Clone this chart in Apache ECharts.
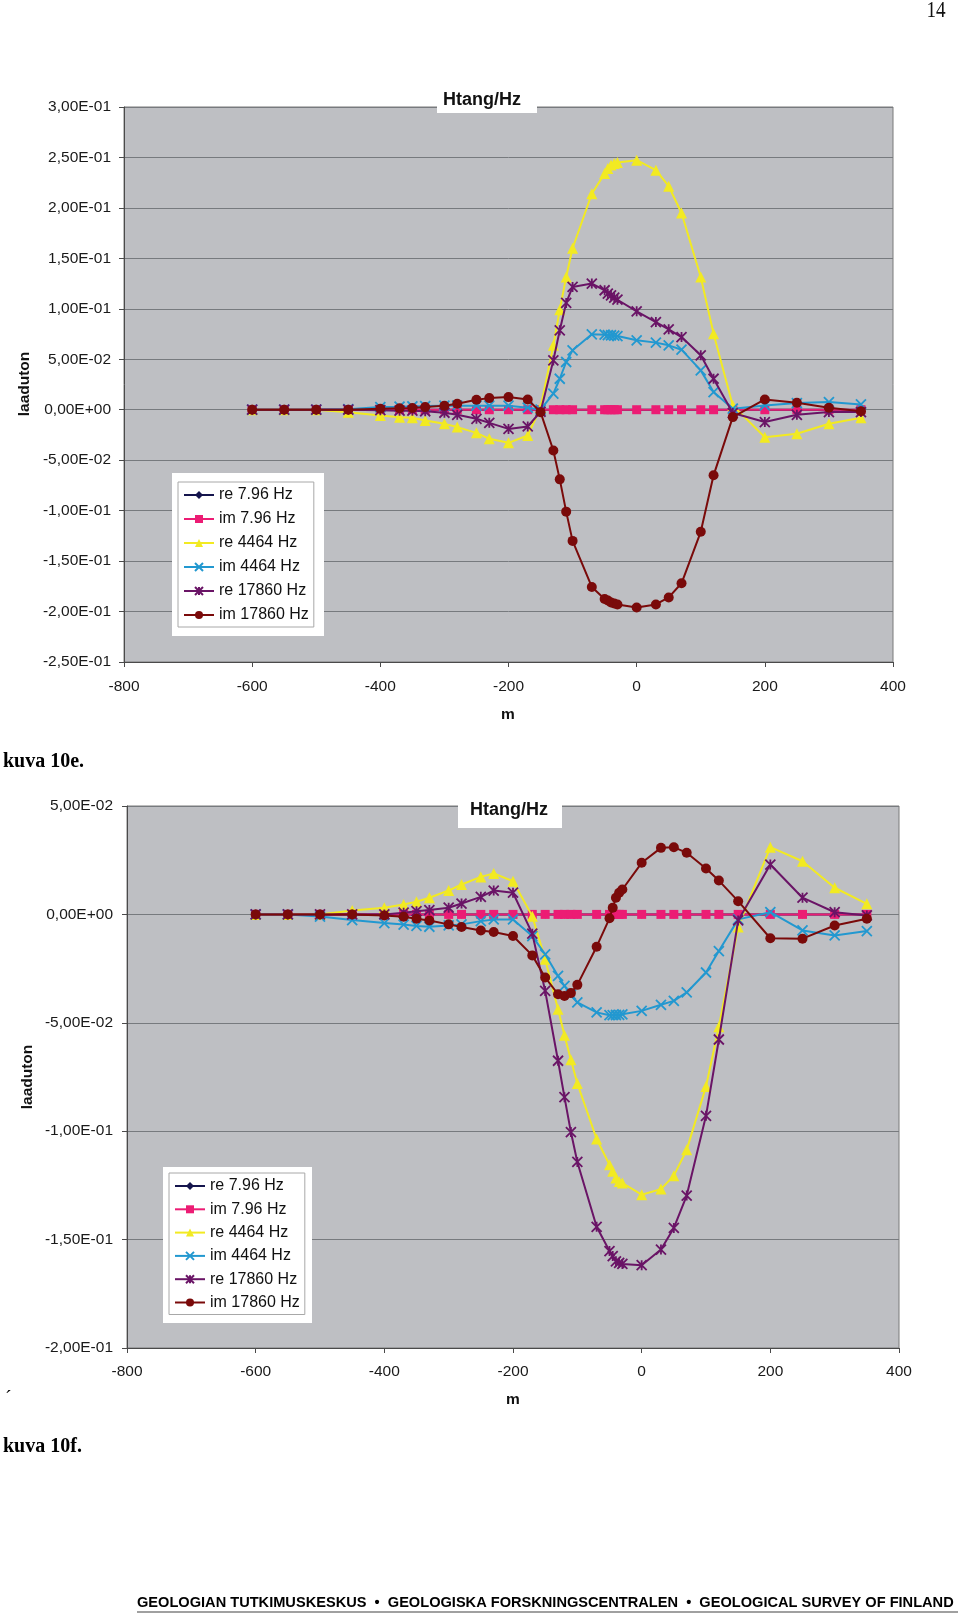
<!DOCTYPE html>
<html>
<head>
<meta charset="utf-8">
<script src="https://cdn.jsdelivr.net/npm/echarts@6/dist/echarts.min.js"></script>
<style>
html,body{margin:0;padding:0;background:#fff;}
#c{width:960px;height:1616px;}
</style>
</head>
<body>
<div id="c"></div>
<script>
// ---- data ----
const seriesNames = ['re 7.96 Hz','im 7.96 Hz','re 4464 Hz','im 4464 Hz','re 17860 Hz','im 17860 Hz'];
const xs = [-600,-550,-500,-450,-400,-370,-350,-330,-300,-280,-250,-230,-200,-170,-150,-130,-120,-110,-100,-70,-50,-45,-40,-35,-30,0,30,50,70,100,120,150,200,250,300,350];
const xTicks = [-800,-600,-400,-200,0,200,400];

// chart 10e (top)
const e_re796  = [0,0,0,0,0,0,0,0,0,0,0,0,0,0,0,0,0,0,0,0,0,0,0,0,0,0,0,0,0,0,0,0,0,0,0,0];
const e_im796  = [0,0,0,0,0,0,0,0,0,0,0,0,0,0,0,0,0,0,0,0,0,0,0,0,0,0,0,0,0,0,0,0,0,0,0,0];
const e_re4464 = [0,0,0,-0.0024,-0.0057,-0.0074,-0.008,-0.0106,-0.014,-0.0172,-0.0229,-0.0288,-0.0328,-0.0255,0.002,0.0638,0.099,0.1316,0.16,0.214,0.234,0.239,0.2424,0.244,0.245,0.2473,0.2374,0.2215,0.195,0.1316,0.0754,0.0043,-0.0272,-0.0238,-0.0139,-0.008];
const e_im4464 = [0,0,0,0.0005,0.0026,0.003,0.0033,0.0036,0.004,0.004,0.004,0.004,0.004,0.002,0.0,0.0159,0.0307,0.0473,0.0589,0.0747,0.0744,0.074,0.0738,0.0734,0.073,0.0688,0.0665,0.0638,0.0595,0.039,0.0175,0.001,0.0043,0.0066,0.0076,0.0053];
const e_re17860 = [0,0,0,0,-0.0005,-0.001,-0.001,-0.0015,-0.003,-0.005,-0.009,-0.013,-0.019,-0.0166,-0.002,0.0489,0.0787,0.1058,0.1217,0.125,0.1184,0.115,0.1134,0.111,0.109,0.0975,0.0869,0.0797,0.072,0.0539,0.0307,-0.0033,-0.0122,-0.005,-0.0023,-0.0023];
const e_im17860 = [0,0,0,0,0.001,0.0015,0.0018,0.0026,0.004,0.006,0.0099,0.0115,0.0125,0.0102,-0.0024,-0.0404,-0.069,-0.101,-0.130,-0.1756,-0.1875,-0.189,-0.191,-0.192,-0.193,-0.196,-0.193,-0.186,-0.172,-0.121,-0.065,-0.0073,0.0102,0.0069,0.002,-0.0014];

// chart 10f (bottom)
const f_re796  = [0,0,0,0,0,0,0,0,0,0,0,0,0,0,0,0,0,0,0,0,0,0,0,0,0,0,0,0,0,0,0,0,0,0,0,0];
const f_im796  = [0,0,0,0,0,0,0,0,0,0,0,0,0,0,0,0,0,0,0,0,0,0,0,0,0,0,0,0,0,0,0,0,0,0,0,0];
const f_re4464 = [0,0,0,0.0018,0.0031,0.0046,0.0058,0.0077,0.011,0.0138,0.0173,0.0189,0.0153,-0.0008,-0.0207,-0.0437,-0.0557,-0.067,-0.078,-0.1036,-0.1155,-0.1185,-0.1216,-0.1232,-0.1239,-0.1293,-0.1267,-0.1205,-0.1086,-0.0794,-0.0518,-0.0058,0.031,0.0245,0.0123,0.0049];
const f_im4464 = [0,0,-0.001,-0.0026,-0.004,-0.0047,-0.0053,-0.0057,-0.0051,-0.0046,-0.0031,-0.0023,-0.0023,-0.01,-0.0184,-0.0284,-0.033,-0.037,-0.0406,-0.0452,-0.0465,-0.0465,-0.0464,-0.0463,-0.0461,-0.0445,-0.0417,-0.0399,-0.036,-0.0268,-0.0169,-0.0023,0.001,-0.0074,-0.0097,-0.0077];
const f_re17860 = [0,0,0,0,0,0.0008,0.0015,0.002,0.0031,0.005,0.0081,0.011,0.01,-0.0089,-0.0353,-0.0675,-0.0843,-0.1004,-0.1142,-0.1441,-0.1553,-0.1576,-0.16,-0.1607,-0.1612,-0.1618,-0.1546,-0.1446,-0.1297,-0.0929,-0.0577,-0.0028,0.023,0.0077,0.001,-0.0005];
const f_im17860 = [0,0,0,0,-0.0005,-0.0011,-0.002,-0.0028,-0.0046,-0.0058,-0.0074,-0.0081,-0.01,-0.0189,-0.0291,-0.0368,-0.0376,-0.0363,-0.0325,-0.0149,-0.0018,0.0031,0.0077,0.01,0.0115,0.0238,0.0307,0.031,0.0284,0.0212,0.0156,0.0061,-0.011,-0.0112,-0.0051,-0.002];

// ---- styling ----
const FONT = '"Liberation Sans", Arial, sans-serif';
const colors = ['#15154d','#EC1C74','#F2EA22','#2298D0','#6A1466','#7A0A0A'];
const symX = 'path://M0,0L10,10M10,0L0,10';
const symAst = 'path://M0,0L10,10M10,0L0,10M5,0L5,10';
const symbols = ['diamond','rect','triangle',symX,symAst,'circle'];
const symSizes = [8,9,11,10,10,10];

function sci(v){
  if (Math.abs(v) < 1e-12) return '0,00E+00';
  const e = Math.floor(Math.log10(Math.abs(v)) + 1e-9);
  const m = v / Math.pow(10, e);
  const s = m.toFixed(2).replace('.', ',');
  return s + 'E' + (e < 0 ? '-' : '+') + String(Math.abs(e)).padStart(2,'0');
}

function mkSeries(arrs, gi){
  return arrs.map((arr, k) => {
    const stroke = (k === 3 || k === 4);
    return {
      name: seriesNames[k], type: 'line', xAxisIndex: gi, yAxisIndex: gi,
      data: xs.map((x, i) => [x, arr[i]]),
      symbol: symbols[k], symbolSize: symSizes[k], showSymbol: true,
      lineStyle: {color: colors[k], width: 2},
      itemStyle: stroke ? {color: colors[k], borderColor: colors[k], borderWidth: 1.8}
                        : {color: colors[k], borderWidth: 0},
      emphasis: {disabled: true}, z: 2 + k * 0.01
    };
  });
}

function mkX(gi, margin){
  return {
    gridIndex: gi, type: 'value', min: xTicks[0], max: xTicks[xTicks.length-1], interval: 200,
    axisLine: {onZero: false, lineStyle: {color: '#4a4a4a', width: 1}},
    axisTick: {show: true, length: 5, inside: false, lineStyle: {color: '#4a4a4a'}},
    splitLine: {show: false},
    axisLabel: {fontSize: 15.5, color: '#1a1a1a', fontFamily: FONT, margin: margin, showMinLabel: true, showMaxLabel: true}
  };
}
function mkY(gi, min, max, margin){
  return {
    gridIndex: gi, type: 'value', min: min, max: max, interval: 0.05,
    axisLine: {show: true, onZero: false, lineStyle: {color: '#4a4a4a', width: 1}},
    axisTick: {show: true, length: 5, lineStyle: {color: '#4a4a4a'}},
    splitLine: {show: true, lineStyle: {color: '#777a7e', width: 1}},
    axisLabel: {fontSize: 15.5, color: '#1a1a1a', fontFamily: FONT, margin: margin, formatter: sci, showMinLabel: true, showMaxLabel: true}
  };
}
function mkLegend(left, top, gap){
  return {
    orient: 'vertical', left: left, top: top, padding: [5, 5, 4, 5], itemGap: gap,
    itemWidth: 30, itemHeight: 10, selectedMode: false,
    backgroundColor: '#ffffff', borderColor: '#a8a8a8', borderWidth: 1, z: 6,
    textStyle: {fontSize: 16, color: '#111', fontFamily: FONT, lineHeight: 16},
    data: seriesNames
  };
}
function txt(x, y, text, font, extra){
  return Object.assign({
    type: 'text', x: x, y: y, z: 10,
    style: {text: text, font: font, fill: '#111', align: 'center', verticalAlign: 'middle', textAlign: 'center', textVerticalAlign: 'middle'}
  }, extra || {});
}

const chart = echarts.init(document.getElementById('c'), null, {renderer: 'canvas', width: 960, height: 1616});
const option = {
  animation: false,
  backgroundColor: '#ffffff',
  grid: [
    {left: 124, top: 107, width: 769, height: 555, show: true, backgroundColor: '#BEBFC3', borderColor: '#7a7a7a', borderWidth: 1},
    {left: 127, top: 806, width: 772, height: 542, show: true, backgroundColor: '#BEBFC3', borderColor: '#7a7a7a', borderWidth: 1}
  ],
  xAxis: [mkX(0, 17), mkX(1, 16)],
  yAxis: [mkY(0, -0.25, 0.3, 13), mkY(1, -0.2, 0.05, 14)],
  legend: [mkLegend(178, 482, 8), mkLegend(169, 1173, 7.3)],
  series: mkSeries([e_re796, e_im796, e_re4464, e_im4464, e_re17860, e_im17860], 0)
    .concat(mkSeries([f_re796, f_im796, f_re4464, f_im4464, f_re17860, f_im17860], 1)),
  graphic: [
    // legend outer white frames
    {type: 'rect', shape: {x: 172, y: 473, width: 152, height: 163}, style: {fill: '#fff'}, z: 5},
    {type: 'rect', shape: {x: 163, y: 1167, width: 149, height: 156}, style: {fill: '#fff'}, z: 5},
    // title boxes
    {type: 'rect', shape: {x: 437, y: 84, width: 100, height: 29}, style: {fill: '#fff'}, z: 9},
    {type: 'rect', shape: {x: 458, y: 795, width: 104, height: 33}, style: {fill: '#fff'}, z: 9},
    txt(482, 100, 'Htang/Hz', 'bold 18px ' + FONT),
    txt(509, 810, 'Htang/Hz', 'bold 18px ' + FONT),
    // axis names
    txt(25, 384, 'laaduton', 'bold 15.5px ' + FONT, {rotation: Math.PI / 2}),
    txt(28, 1077, 'laaduton', 'bold 15.5px ' + FONT, {rotation: Math.PI / 2}),
    txt(508, 715, 'm', 'bold 15.5px ' + FONT),
    txt(513, 1400, 'm', 'bold 15.5px ' + FONT),
    // captions
    {type: 'text', x: 3, y: 762, z: 10, style: {text: 'kuva 10e.', font: 'bold 20px "Liberation Serif", "Times New Roman", serif', fill: '#000', align: 'left', verticalAlign: 'middle', textAlign: 'left', textVerticalAlign: 'middle'}},
    {type: 'text', x: 3, y: 1447, z: 10, style: {text: 'kuva 10f.', font: 'bold 20px "Liberation Serif", "Times New Roman", serif', fill: '#000', align: 'left', verticalAlign: 'middle', textAlign: 'left', textVerticalAlign: 'middle'}},
    {type: 'text', x: 5, y: 1400, z: 10, style: {text: '\u00B4', font: '20px "Liberation Serif", serif', fill: '#000', align: 'left', verticalAlign: 'middle', textAlign: 'left', textVerticalAlign: 'middle'}},
    // page number
    {type: 'text', x: 936, y: 11, z: 10, scaleX: 0.8, style: {text: '14', font: '24px "Liberation Serif", serif', fill: '#111', align: 'center', verticalAlign: 'middle', textAlign: 'center', textVerticalAlign: 'middle'}},
    // footer
    {type: 'text', x: 137, y: 1603, z: 10, style: {text: 'GEOLOGIAN TUTKIMUSKESKUS  \u2022  GEOLOGISKA FORSKNINGSCENTRALEN  \u2022  GEOLOGICAL SURVEY OF FINLAND', font: 'bold 14.6px ' + FONT, fill: '#000', align: 'left', verticalAlign: 'middle', textAlign: 'left', textVerticalAlign: 'middle'}},
    {type: 'rect', shape: {x: 137, y: 1611, width: 821, height: 2}, style: {fill: '#a0a0a0'}, z: 10}
  ]
};
chart.setOption(option);
</script>
</body>
</html>
